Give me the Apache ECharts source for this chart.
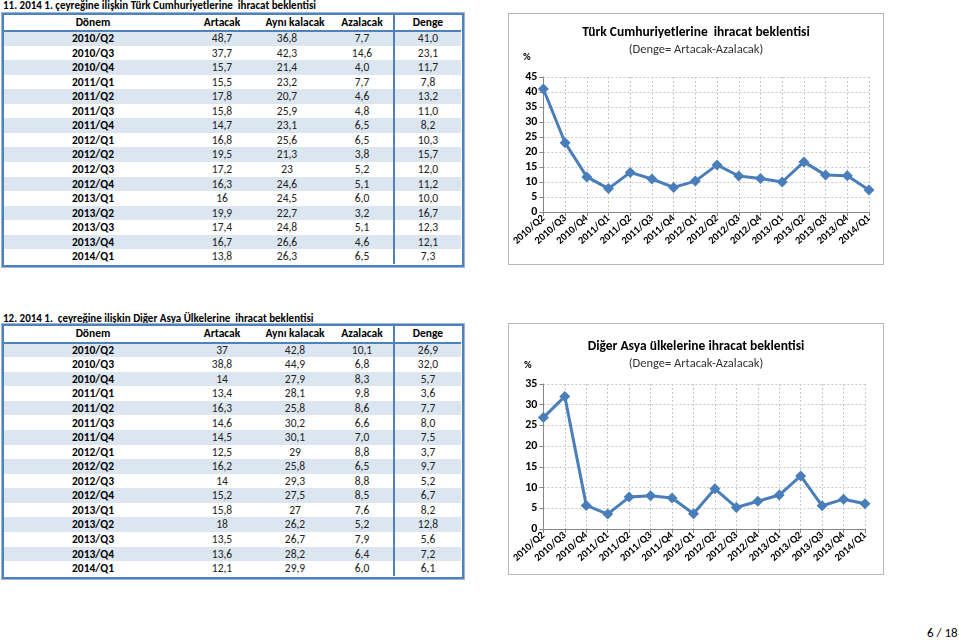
<!DOCTYPE html>
<html><head><meta charset="utf-8">
<script src="https://cdn.jsdelivr.net/npm/echarts@6/dist/echarts.min.js"></script>
<style>
html,body{margin:0;padding:0;background:#fff;width:959px;height:641px;overflow:hidden;font-family:Carlito,Lato,"Liberation Sans",sans-serif;}
.abs{position:absolute;}
.cell{position:absolute;white-space:nowrap;transform:translateX(-50%);font-size:11.5px;color:#222;}
.b{font-weight:bold;color:#000;}
.ttl{position:absolute;font-size:11px;font-weight:bold;white-space:nowrap;color:#000;}
.box{position:absolute;border:1px solid #b8b8b8;box-sizing:border-box;width:376px;height:252px;}
</style></head>
<body>
<div class="ttl" style="left:3px;top:-1px;">11. 2014 1. çeyreğine ilişkin Türk Cumhuriyetlerine&nbsp; ihracat beklentisi</div>
<div class="ttl" style="left:3px;top:312px;">12. 2014 1.&nbsp; çeyreğine ilişkin Diğer Asya Ülkelerine&nbsp; ihracat beklentisi</div>
<div id="t1"></div><div id="t2"></div>
<div class="box" style="left:508px;top:13px;"><div id="c1" style="width:374px;height:250px;"></div></div>
<div class="box" style="left:508px;top:323px;"><div id="c2" style="width:374px;height:250px;"></div></div>
<div class="abs" style="left:927px;top:625px;font-size:13px;color:#000;">6 / 18</div>
<script>
// ---- data ----
var periods = ['2010/Q2','2010/Q3','2010/Q4','2011/Q1','2011/Q2','2011/Q3','2011/Q4','2012/Q1','2012/Q2','2012/Q3','2012/Q4','2013/Q1','2013/Q2','2013/Q3','2013/Q4','2014/Q1'];
var headers = ['Dönem','Artacak','Aynı kalacak','Azalacak','Denge'];
var t1Artacak = [48.7,37.7,15.7,15.5,17.8,15.8,14.7,16.8,19.5,17.2,16.3,16,19.9,17.4,16.7,13.8];
var t1Ayni    = [36.8,42.3,21.4,23.2,20.7,25.9,23.1,25.6,21.3,23,24.6,24.5,22.7,24.8,26.6,26.3];
var t1Azalacak= [7.7,14.6,4.0,7.7,4.6,4.8,6.5,6.5,3.8,5.2,5.1,6.0,3.2,5.1,4.6,6.5];
var t1Denge   = [41.0,23.1,11.7,7.8,13.2,11.0,8.2,10.3,15.7,12.0,11.2,10.0,16.7,12.3,12.1,7.3];
var t2Artacak = [37,38.8,14,13.4,16.3,14.6,14.5,12.5,16.2,14,15.2,15.8,18,13.5,13.6,12.1];
var t2Ayni    = [42.8,44.9,27.9,28.1,25.8,30.2,30.1,29,25.8,29.3,27.5,27,26.2,26.7,28.2,29.9];
var t2Azalacak= [10.1,6.8,8.3,9.8,8.6,6.6,7.0,8.8,6.5,8.8,8.5,7.6,5.2,7.9,6.4,6.0];
var t2Denge   = [26.9,32.0,5.7,3.6,7.7,8.0,7.5,3.7,9.7,5.2,6.7,8.2,12.8,5.6,7.2,6.1];
var chart1Title = 'Türk Cumhuriyetlerine  ihracat beklentisi';
var chart2Title = 'Diğer Asya ülkelerine ihracat beklentisi';
var chartSubtitle = '(Denge= Artacak-Azalacak)';
var yTicks1 = {min:0,max:45,interval:5};
var yTicks2 = {min:0,max:35,interval:5};

function raw(v){return String(v).replace('.',',');}
function fix(v){return v.toFixed(1).replace('.',',');}

function buildTable(id, top, headH, rowH, hdrX, dataX, cols){
  var el=document.getElementById(id);
  var html='';
  var left=3,right=461;
  var bodyTop=top+headH;
  for(var i=0;i<periods.length;i++){
    var y=bodyTop+i*rowH;
    if(i%2===0) html+='<div class="abs" style="left:'+left+'px;top:'+y+'px;width:'+(right-left)+'px;height:'+rowH+'px;background:#dce6f1;"></div>';
  }
  var bottom=bodyTop+periods.length*rowH;
  html+='<div class="abs" style="left:'+left+'px;top:'+(bodyTop-1)+'px;width:'+(right-left)+'px;height:2px;background:#4f81bd;"></div>';
  html+='<div class="abs" style="left:393px;top:'+top+'px;width:2px;height:'+(bottom-top)+'px;background:#4f81bd;"></div>';
  html+='<div class="abs" style="left:'+(left-1)+'px;top:'+(top-1)+'px;width:'+(right-left)+'px;height:'+(bottom-top)+'px;border:2px solid #4f81bd;box-shadow:0 0 0 1px #9db5d8;"></div>';
  for(var k=0;k<headers.length;k++){
    html+='<div class="cell b" style="left:'+hdrX[k]+'px;top:'+top+'px;line-height:'+headH+'px;">'+headers[k]+'</div>';
  }
  for(var i=0;i<periods.length;i++){
    var y=bodyTop+i*rowH;
    var vals=[periods[i], raw(cols[0][i]), raw(cols[1][i]), fix(cols[2][i]), fix(cols[3][i])];
    for(var k=0;k<vals.length;k++){
      html+='<div class="cell'+(k===0?' b':'')+'" style="left:'+dataX[k]+'px;top:'+y+'px;line-height:'+rowH+'px;">'+vals[k]+'</div>';
    }
  }
  el.innerHTML=html;
}
buildTable('t1',14,17,14.56,[93,222,295,362,428],[93,222,287,362,428],[t1Artacak,t1Ayni,t1Azalacak,t1Denge]);
buildTable('t2',325,17.7,14.56,[93,222,295,362,428],[93,222,295,362,428],[t2Artacak,t2Ayni,t2Azalacak,t2Denge]);

var FF='Carlito, Lato, "Liberation Sans", sans-serif';
function makeOption(title, ticks, data, grid, titleTop, pctPos){
  return {
    animation:false,
    textStyle:{fontFamily:FF},
    title:{text:title, subtext:chartSubtitle, left:'center', top:titleTop, itemGap:3,
      textStyle:{fontSize:13.5,fontWeight:'bold',color:'#000',fontFamily:FF},
      subtextStyle:{fontSize:12.5,color:'#333',fontFamily:FF}},
    graphic:[{type:'text',left:pctPos[0],top:pctPos[1],style:{text:'%',fontSize:10.5,fontWeight:'bold',fill:'#000',fontFamily:FF}}],
    grid:grid,
    xAxis:{type:'category',data:periods,boundaryGap:false,
      axisLine:{lineStyle:{color:'#868686',width:1}},
      axisTick:{show:true,length:4,lineStyle:{color:'#868686'}},
      axisLabel:{rotate:42,fontSize:10.5,fontWeight:'bold',color:'#000',margin:5,interval:0,fontFamily:FF},
      splitLine:{show:true,lineStyle:{color:'#c8c8c8',type:[2,2],width:1}}},
    yAxis:{type:'value',min:ticks.min,max:ticks.max,interval:ticks.interval,
      axisLine:{show:true,lineStyle:{color:'#868686'}},
      axisTick:{show:true,length:4,lineStyle:{color:'#868686'}},
      axisLabel:{fontSize:12,fontWeight:'bold',color:'#000',margin:6,fontFamily:FF},
      splitLine:{show:true,lineStyle:{color:'#c8c8c8',type:[2,2],width:1}}},
    series:[{type:'line',data:data,symbol:'diamond',symbolSize:11,
      lineStyle:{color:'#4a7ebb',width:3},itemStyle:{color:'#4a7ebb'}}]
  };
}
echarts.init(document.getElementById('c1'),null,{renderer:'canvas'}).setOption(
  makeOption(chart1Title,yTicks1,t1Denge,{left:34,right:14,top:63,bottom:52},7,[14,38]));
echarts.init(document.getElementById('c2'),null,{renderer:'canvas'}).setOption(
  makeOption(chart2Title,yTicks2,t2Denge,{left:34,right:18,top:60,bottom:45},11,[15,36]));
</script>
</body></html>
